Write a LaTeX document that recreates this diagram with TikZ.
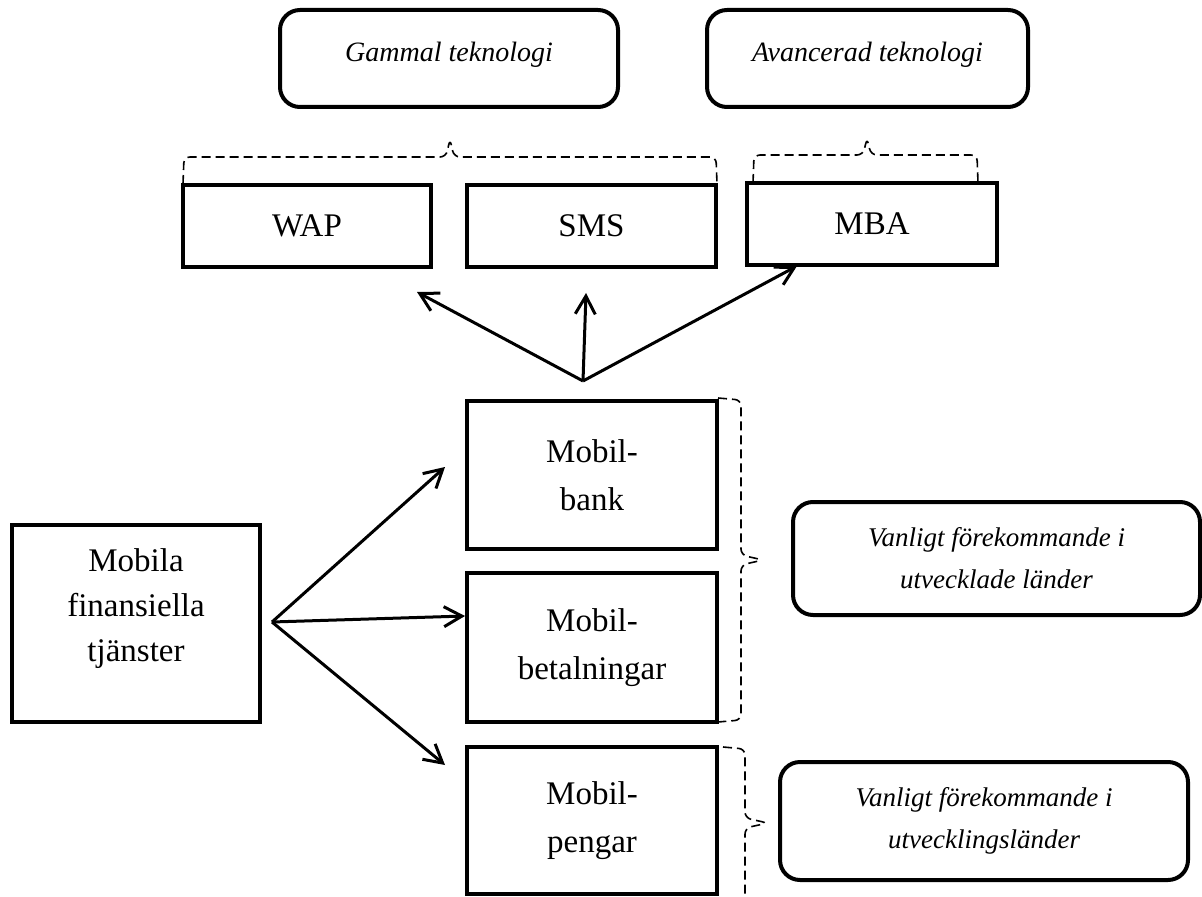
\documentclass[tikz,border=0pt]{standalone}
\usepackage{fontspec}
\setmainfont{Liberation Serif}
\usetikzlibrary{arrows.meta}
\tikzset{
  px/.style={x=0.5pt,y=-0.5pt},
  sqbox/.style={draw,line width=2.3pt,inner sep=0pt,align=center,font=\fontsize{16.5}{24}\selectfont},
  rbox/.style={draw,line width=2pt,rounded corners=10pt,inner sep=0pt,align=center,font=\fontsize{13.5}{21}\selectfont\itshape},
  conn/.style={line width=1.5pt,-{Straight Barb[length=9pt,width=10pt,line width=1.5pt]}},
  bracepath/.style={line width=0.8pt,dash pattern=on 4.5pt off 2.5pt,rounded corners=3pt}
}
\begin{document}
\begin{tikzpicture}[px]
\useasboundingbox (0,0) rectangle (1202,897);
% top rounded boxes
\node[rbox,minimum width=169pt,minimum height=48.5pt,font=\fontsize{14}{21}\selectfont\itshape] (gam) at (449,58.5) {Gammal teknologi\\[-14pt]\mbox{}};
\node[rbox,minimum width=160.5pt,minimum height=48.5pt,font=\fontsize{14}{21}\selectfont\itshape] (ava) at (867.5,58.5) {Avancerad teknologi\\[-14pt]\mbox{}};
% technology boxes
\node[sqbox,minimum width=124pt,minimum height=41pt] (wap) at (307,226) {WAP};
\node[sqbox,minimum width=124.5pt,minimum height=41pt] (sms) at (591.5,226) {SMS};
\node[sqbox,minimum width=125pt,minimum height=41pt] (mba) at (872,224) {MBA};
% service boxes
\node[sqbox,minimum width=125pt,minimum height=74pt] (bank) at (592,475) {Mobil-\\bank};
\node[sqbox,minimum width=125pt,minimum height=74.5pt] (betal) at (592,647.5) {Mobil-\\betalningar};
\node[sqbox,minimum width=125pt,minimum height=73.5pt] (pengar) at (592,820.5) {Mobil-\\pengar};
\node[sqbox,minimum width=124pt,minimum height=98.5pt,font=\fontsize{16.5}{22.5}\selectfont] (mobila) at (136,623.5) {Mobila\\finansiella\\tjänster\\[-4pt]\mbox{}};
% side rounded boxes
\node[rbox,minimum width=203.5pt,minimum height=56.5pt] (dev1) at (996.5,558.5) {Vanligt förekommande i\\utvecklade länder};
\node[rbox,minimum width=204pt,minimum height=59pt] (dev2) at (984,821) {Vanligt förekommande i\\utvecklingsländer};
% arrow coordinates
\coordinate (o1) at (583,381);
\coordinate (twap) at (417,292);
\coordinate (tsms) at (586,293);
\coordinate (tmba) at (797,266);
\coordinate (o2) at (272,622);
\coordinate (tbank) at (445,467);
\coordinate (tbet) at (465,616);
\coordinate (tpen) at (445,765);
\draw[conn] (o1) -- (twap);
\draw[conn] (o1) -- (tsms);
\draw[conn] (o1) -- (tmba);
\draw[conn] (o2) -- (tbank);
\draw[conn] (o2) -- (tbet);
\draw[conn] (o2) -- (tpen);
% braces
\draw[bracepath] (183,184) -- (184,157) -- (446,157) -- (450,139) -- (454,157) -- (716,157) -- (717,184);
\draw[bracepath] (753,183) -- (754,155) -- (863,155) -- (867,138) -- (871,155) -- (977,155) -- (978,183);
\draw[bracepath] (718,398) -- (741,400) -- (741,555) -- (763,560) -- (741,565) -- (741,720) -- (718,722);
\draw[bracepath] (723,747) -- (745,749) -- (745,818) -- (768,823) -- (745,828) -- (745,905);
\end{tikzpicture}
\end{document}
